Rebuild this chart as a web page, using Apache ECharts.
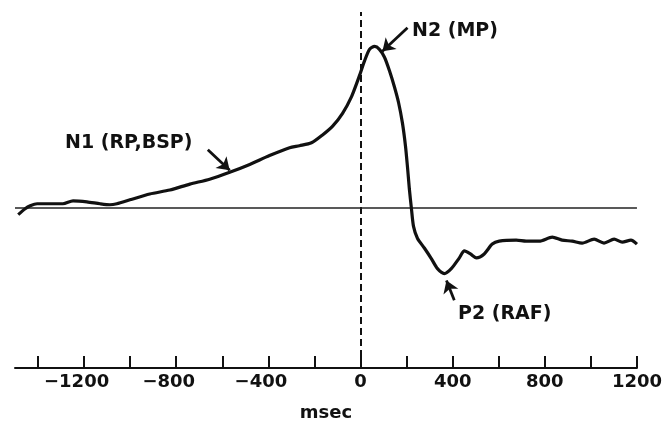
<!DOCTYPE html>
<html>
<head>
<meta charset="utf-8">
<script src="https://cdn.jsdelivr.net/npm/echarts@6/dist/echarts.min.js"></script>
<style>
html,body{margin:0;padding:0;background:#fff;}
#chart{width:665px;height:427px;}
</style>
</head>
<body>
<div id="chart"></div>
<script>
// time in msec
var timeMs = [-1486,-1456,-1434,-1404,-1348,-1292,-1248,-1188,-1131,-1088,-1058,-1001,-915,-828,-741,-655,-568,-481,-395,-308,-265,-213,-165,-121,-78,-39,-5,17,39,61,82,104,126,147,165,182,195,204,212,221,230,247,277,308,334,364,394,429,451,477,503,537,572,602,676,719,776,832,875,919,962,1014,1057,1101,1136,1174,1200];
// potential (arbitrary units, negativity up)
var potential = [-0.7,-0.1,0.2,0.4,0.4,0.4,0.7,0.6,0.4,0.3,0.4,0.8,1.4,1.8,2.4,2.9,3.6,4.4,5.3,6.1,6.3,6.6,7.4,8.3,9.6,11.3,13.4,14.9,16.1,16.4,16.1,15.3,13.9,12.3,10.7,8.6,6.3,4.1,1.9,-0.1,-1.9,-3.1,-4.1,-5.2,-6.2,-6.7,-6.2,-5.1,-4.4,-4.7,-5.1,-4.7,-3.7,-3.4,-3.3,-3.4,-3.4,-3.0,-3.3,-3.4,-3.6,-3.2,-3.6,-3.2,-3.5,-3.3,-3.7];
var tickValues = [-1400,-1200,-1000,-800,-600,-400,-200,0,200,400,600,800,1000,1200];
var tickLabels = [-1200,-800,-400,0,400,800,1200];
var annotations = ['N1 (RP,BSP)', 'N2 (MP)', 'P2 (RAF)'];
// arrows: [fromX, fromY, toX, toY]
var arrowN1 = [-663, 5.9, -568, 3.8];
var arrowN2 = [204, 18.3, 95, 15.9];
var arrowP2 = [407, -9.4, 373, -7.4];

var chart = echarts.init(document.getElementById('chart'));
var seriesData = timeMs.map(function(t, i){ return [t, potential[i]]; });
function arrow(a){ return [{coord:[a[0],a[1]]},{coord:[a[2],a[3]]}]; }
var font = 'DejaVu Sans';
chart.setOption({
  animation: false,
  backgroundColor: '#fff',
  grid: {left: 15, right: 27, top: 12, bottom: 53},
  xAxis: {
    type: 'value', min: -1500, max: 1200,
    name: 'msec', nameLocation: 'middle', nameGap: 36,
    nameTextStyle: {fontFamily: font, fontWeight: 'bold', fontSize: 18, color: '#111'},
    axisLine: {show: true, onZero: false, lineStyle: {color: '#111', width: 2}},
    axisTick: {show: true, inside: true, length: 12, customValues: tickValues, lineStyle: {color: '#111', width: 2}},
    axisLabel: {
      show: true, margin: 5, customValues: tickLabels,
      formatter: function(v){
        if (v < 0) return '{n|\u2212' + Math.abs(v) + '}{p|}';
        return '{n|' + v + '}';
      },
      rich: {
        n: {fontFamily: font, fontWeight: 'bold', fontSize: 18, color: '#111'},
        p: {width: 15, fontSize: 18}
      }
    },
    splitLine: {show: false}
  },
  yAxis: {
    type: 'value', min: -16.3, max: 19.9, show: false, splitLine: {show: false}
  },
  series: [{
    type: 'line',
    data: seriesData,
    smooth: 0.25,
    showSymbol: false,
    symbol: 'none',
    lineStyle: {color: '#111', width: 3.2},
    z: 5,
    markLine: {
      silent: true,
      symbol: ['none', 'none'],
      label: {show: false},
      data: [
        [{coord: [0, -16.3], lineStyle: {type: [7, 4], width: 2, color: '#111'}}, {coord: [0, 19.9]}],
        [{coord: [-1500, 0], lineStyle: {type: 'solid', width: 1.5, color: '#222'}}, {coord: [1200, 0]}]
      ]
    }
  }, {
    type: 'line',
    data: [],
    markLine: {
      silent: true,
      symbol: ['none', 'arrow'],
      symbolSize: 12,
      label: {show: false},
      lineStyle: {type: 'solid', width: 2.8, color: '#111'},
      data: [arrow(arrowN1), arrow(arrowN2), arrow(arrowP2)]
    }
  }],
  graphic: [
    {type: 'text', left: 65, top: 134, style: {text: annotations[0], font: 'bold 19px DejaVu Sans', fill: '#111'}},
    {type: 'text', left: 412, top: 22, style: {text: annotations[1], font: 'bold 19px DejaVu Sans', fill: '#111'}},
    {type: 'text', left: 458, top: 305, style: {text: annotations[2], font: 'bold 19px DejaVu Sans', fill: '#111'}}
  ]
});
</script>
</body>
</html>
